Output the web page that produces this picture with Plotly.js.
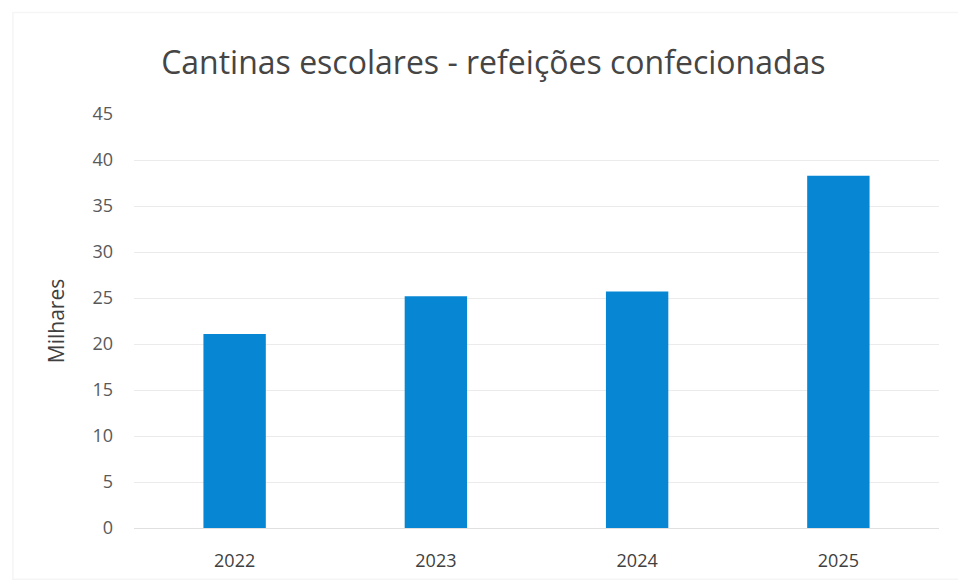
<!DOCTYPE html>
<html><head><meta charset="utf-8">
<script src="https://cdn.plot.ly/plotly-3.0.1.min.js"></script>
<style>body{margin:0;background:#fff}#c{width:958px;height:583px}</style>
</head><body><div id="c"></div>
<script>
const years = ['2022', '2023', '2024', '2025'];
const meals = [21.1, 25.2, 25.7, 38.3];
const yTicks = [0, 5, 10, 15, 20, 25, 30, 35, 40, 45];

Plotly.newPlot('c', [{
  type: 'bar', x: years, y: meals,
  marker: {color: '#0787D3'}, hoverinfo: 'none'
}], {
  width: 958, height: 583,
  margin: {l: 134, r: 19, t: 114, b: 55},
  paper_bgcolor: '#fff', plot_bgcolor: '#fff',
  bargap: 0.69,
  font: {family: 'Open Sans, sans-serif', color: '#595959', size: 18},
  title: {text: 'Cantinas escolares - refeições confecionadas', x: 0.515, xanchor: 'center', y: 0.893, yanchor: 'middle',
          font: {size: 32, color: '#454545', family: 'Open Sans, sans-serif'}},
  xaxis: {type: 'category', showgrid: false, zeroline: false, showline: false, ticks: '', ticklen: 0,
          ticklabelstandoff: 20, tickfont: {size: 18, color: '#404040'}},
  yaxis: {range: [0, 45], tickvals: yTicks, showgrid: true, gridcolor: '#ebebeb', gridwidth: 1,
          zeroline: true, zerolinecolor: '#e0e0e0', showline: false, ticks: '', ticklen: 0,
          ticklabelstandoff: 20,
          tickfont: {size: 18, color: '#595959'}, title: {text: 'Milhares', standoff: 22, font: {size: 21, color: '#404040'}}},
  shapes: [{type: 'rect', xref: 'paper', yref: 'paper', x0: -0.1504, x1: 1.03, y0: -0.124, y1: 1.245,
            line: {color: '#f5f5f5', width: 1.5}, layer: 'below'}],
  showlegend: false
}, {staticPlot: true});
</script></body></html>
